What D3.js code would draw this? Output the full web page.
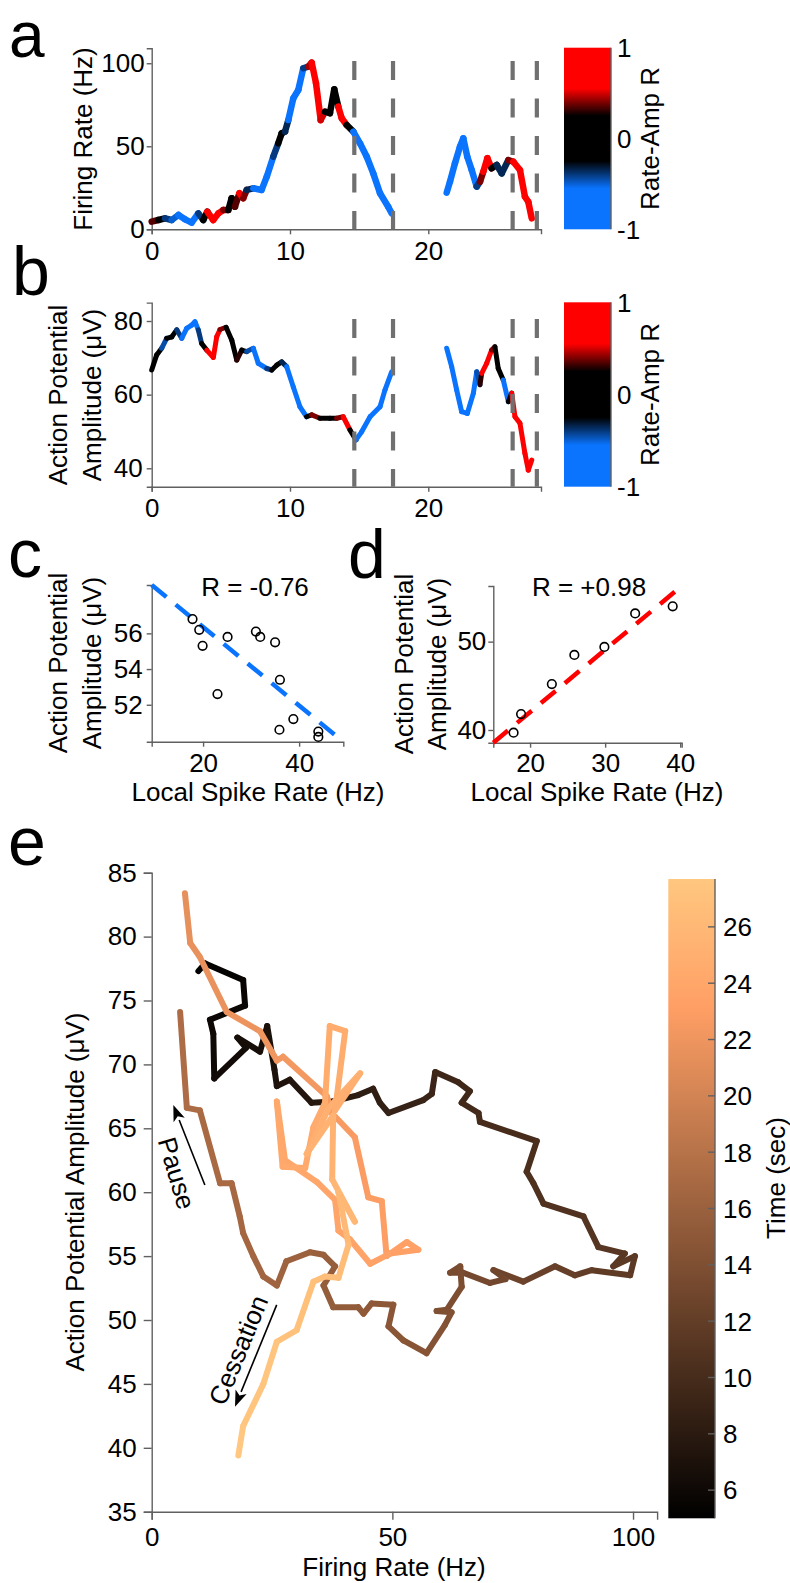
<!DOCTYPE html>
<html>
<head>
<meta charset="utf-8">
<script src="https://cdn.jsdelivr.net/npm/d3@7"></script>
<style>
body { margin: 0; background: #fff; }
svg { display: block; }
</style>
</head>
<body>
<script>
// ---- values ----

// panel a: firing rate over time, coloured by local rate-amplitude R
var timeA = [0, 0.48, 0.96, 1.45, 1.93, 2.41, 2.89, 3.37, 3.73, 4.02, 4.45, 4.82, 5.18, 5.54, 5.78, 6.02, 6.34, 6.62, 6.87, 7.35,
  7.95, 8.32, 8.79, 9.15, 9.4, 9.64, 9.88, 10.24, 10.6, 10.96, 11.32, 11.57, 11.88, 12.22, 12.53, 12.89, 13.2, 13.49, 13.74, 14.1,
  14.58, 15.06, 15.55, 16.02, 16.51, 17.1, 17.35,
  21.33, 21.57, 21.93, 22.29, 22.53, 22.82, 23.14, 23.5, 23.74, 23.98, 24.27, 24.58, 24.95, 25.31, 25.79, 26.15, 26.63, 26.99, 27.23, 27.48];
var rateA = [4.6, 5.6, 6.6, 5.6, 8.6, 6.0, 4.0, 9.6, 5.6, 10.6, 5.6, 9.6, 11.6, 11.6, 18.7, 13.6, 21.7, 18.7, 23.7, 24.7,
  23.7, 31.7, 43.7, 51.8, 57.8, 58.8, 65.8, 78.9, 83.9, 97.0, 98, 100.4, 88, 65.8, 70.8, 69.9, 84.3, 73.9, 66.9, 62.8,
  58.8, 51.8, 43.7, 33.7, 21.7, 13.6, 9.6,
  22.1, 28.7, 39.8, 49.8, 54.8, 43.7, 35.7, 25.7, 28.7, 34.7, 42.8, 36.7, 38.7, 33.7, 41.7, 40.7, 35.7, 19.6, 16.6, 6.6];
var corrA = [0.4, 0.3, -0.2, -0.6, -0.4, -0.7, -0.8, -0.7, -0.1, 0.4, 0.8, 0.8, 0.7, 0.1, -0.4, 0, 0.7, 0.8, 0, -0.7,
  -0.8, -0.8, -0.8, 0, 0.4, 0, -0.7, -0.8, -0.8, -0.8, 0, 0.9, 0.9, 0.9, 0.1, 0.3, 0.1, 0.4, 0.8, 0.8,
  -0.4, -0.8, -0.8, -0.8, -0.8, -0.8, -0.8,
  -0.8, -0.8, -0.8, -0.8, -0.5, -0.8, -0.8, -0.8, 0, 0.8, 0.8, 0.4, 0, -0.7, 0, 0.8, 0.8, 0.8, 0.8, 0.8];

// panel b: action potential amplitude over time
var timeB = [0, 0.36, 0.72, 1.08, 1.45, 1.81, 2.17, 2.53, 2.89, 3.13, 3.37, 3.61, 3.98, 4.46, 4.7, 4.94, 5.38, 5.79, 6.15, 6.51,
  6.87, 7.35, 7.71, 8.32, 8.68, 9.04, 9.4, 9.76, 10.24, 10.72, 11.2, 11.57, 12.17, 12.89, 13.37, 13.85, 14.34, 14.77, 15.18, 15.79,
  16.51, 16.87, 17.35,
  21.33, 21.69, 22.05, 22.41, 22.82, 23.26, 23.5, 23.74, 23.86, 24.22, 24.58, 24.82, 25.06, 25.42, 25.79, 26.03, 26.27, 26.63, 26.99, 27.23, 27.48];
var ampB = [66.7, 70.8, 72.6, 75.3, 75.7, 77.6, 75.3, 78.0, 78.9, 79.8, 77.6, 73.9, 72.1, 70.1, 75.7, 77.7, 78.3, 74.8, 69.4, 72.1,
  71.7, 72.6, 68.5, 67.1, 66.7, 68.0, 68.9, 67.6, 62.1, 56.7, 54.0, 54.5, 53.6, 53.6, 53.6, 54.0, 50.4, 47.7, 49.9, 54.0,
  56.7, 61.3, 66.2,
  72.6, 67.6, 61.3, 55.4, 54.9, 60.4, 66.2, 62.7, 65.8, 68.5, 72.1, 73.0, 67.1, 64.0, 58.1, 60.4, 54.0, 52.2, 44.0, 39.5, 42.2];
var corrB = [0.4, 0, -0.4, -0.5, 0, -0.4, -0.4, -0.7, -0.8, -0.8, -0.8, 0, 0.3, 0.8, 0.8, 0.8, 0, -0.4, 0, 0.6,
  -0.1, -0.8, -0.8, -0.8, 0, 0.4, 0, -0.7, -0.8, -0.8, -0.8, 0.5, 0.3, 0.1, 0.3, 0.5, 0.8, -0.4, -0.8, -0.8,
  -0.8, -0.8, -0.8,
  -0.8, -0.8, -0.8, -0.8, -0.8, -0.8, -0.8, -0.1, 0.7, 0.7, 0.4, 0.4, 0, -0.5, -0.7, 0.8, 0.8, 0.8, 0.8, 0.8, 0.8];

// dashed markers (sec)
var markTimes = [14.65, 17.45, 26.1, 27.85];

// panel c: negative correlation window
var cRate = [17.8, 19.2, 19.9, 23.0, 25.1, 31.0, 31.9, 35.0, 36.0, 35.9, 38.8, 44.0, 44.0];
var cAmp = [56.8, 56.2, 55.3, 52.6, 55.8, 56.1, 55.8, 55.5, 53.4, 50.6, 51.2, 50.5, 50.2];
var cFitX = [9.3, 49.2], cFitY = [58.71, 49.93];
var cLabel = "R = -0.76";

// panel d: positive correlation window
var dRate = [17.8, 18.8, 22.9, 25.9, 29.9, 34.0, 39.0];
var dAmp = [39.7, 41.8, 45.2, 48.5, 49.4, 53.2, 54.0];
var dFitX = [15.1, 40.2], dFitY = [38.56, 56.3];
var dLabel = "R = +0.98";

// panel e: amplitude vs rate trajectory, coloured by time
var eRate = [9.7, 11.1, 19.0, 19.4, 12.1, 12.8, 13.0, 19.6, 17.8, 22.5, 24.0, 25.5, 26.0, 28.7, 33.2, 37.7, 42.9, 46.0, 47.4, 49.2,
  56.4, 58.2, 58.9, 63.7, 66.1, 64.4, 67.9, 68.2, 80.0, 77.9, 79.3, 81.4, 89.7, 92.8, 98.3, 95.9, 100.4, 99.4, 91.4, 87.9,
  83.8, 77.2, 71.0, 73.5, 70.3, 64.7, 62.0, 64.1, 64.4, 61.3, 59.2, 62.3, 60.9, 57.1, 52.3, 49.2, 50.2, 45.7, 44.0, 42.9,
  37.7, 35.7, 38.1, 35.7, 32.9, 28.0, 26.0, 23.2, 21.1, 19.0, 18.3, 16.6, 14.2, 10.0, 7.3, 5.9,
  6.9, 8.0, 10.0, 15.6, 22.5, 26.0, 27.3, 36.4, 37.4, 42.2, 45.0, 47.8, 48.8, 53.0, 55.4, 49.5, 45.4, 41.2, 38.8, 38.1,
  34.3, 27.7, 26.0, 27.2, 31.9, 33.6, 36.0, 37.0, 40.2, 38.1, 43.3, 36.8, 32.2, 37.7, 37.5, 42.2, 38.8, 40.9, 38.8, 36.0,
  33.6, 30.1, 26.0, 23.2, 19.0, 18.0];
var eAmp = [77.3, 77.9, 76.6, 74.6, 73.5, 72.4, 68.9, 71.3, 72.1, 71.0, 73.0, 69.6, 68.3, 68.8, 67.0, 67.1, 67.6, 68.1, 67.0, 66.2,
  67.2, 67.7, 69.4, 68.6, 67.9, 67.0, 66.2, 65.5, 64.0, 61.6, 60.7, 59.1, 58.1, 55.7, 55.2, 54.2, 55.0, 53.5, 53.9, 53.5,
  54.2, 53.0, 53.9, 53.2, 52.9, 53.7, 53.7, 54.2, 52.6, 50.8, 50.7, 50.6, 49.6, 47.4, 48.4, 49.5, 51.2, 51.3, 50.5, 51.0,
  51.0, 52.7, 54.2, 55.1, 55.3, 54.6, 52.7, 53.4, 55.0, 56.8, 58.1, 60.7, 60.7, 66.4, 66.6, 74.1,
  83.4, 79.5, 78.4, 74.1, 72.6, 70.3, 70.6, 67.5, 66.2, 64.3, 59.6, 59.3, 55.0, 56.1, 55.5, 55.2, 54.4, 56.3, 57.0, 59.4,
  60.8, 62.5, 67.1, 62.0, 61.9, 65.1, 67.0, 73.0, 72.6, 66.4, 69.3, 66.6, 63.0, 66.0, 61.0, 57.7, 60.0, 55.9, 53.3, 53.4,
  53.0, 49.2, 48.3, 45.0, 41.7, 39.4];
var eTime = [5.0, 5.2, 5.5, 5.7, 5.9, 6.0, 6.2, 6.4, 6.5, 6.7, 6.8, 7.0, 7.1, 7.3, 7.6, 7.9, 8.2, 8.4, 8.5, 8.7,
  9.0, 9.2, 9.3, 9.5, 9.6, 9.7, 9.8, 9.9, 10.2, 10.4, 10.5, 10.6, 10.9, 11.1, 11.3, 11.4, 11.5, 11.6, 11.9, 12.1,
  12.3, 12.6, 12.9, 13.0, 13.2, 13.5, 13.6, 13.7, 13.8, 14.0, 14.1, 14.2, 14.3, 14.5, 14.7, 14.8, 14.9, 15.1, 15.2, 15.3,
  15.5, 15.6, 15.7, 15.8, 16.0, 16.2, 16.3, 16.5, 16.6, 16.7, 16.8, 16.9, 17.0, 17.1, 17.2, 17.4,
  21.3, 21.45, 21.55, 21.8, 22.0, 22.15, 22.25, 22.5, 22.6, 22.75, 22.9, 23.0, 23.1, 23.2, 23.3, 23.4, 23.5, 23.6, 23.7, 23.8,
  23.9, 24.0, 24.1, 24.2, 24.3, 24.4, 24.5, 24.6, 24.7, 24.8, 24.9, 25.0, 25.2, 25.3, 25.5, 25.7, 25.9, 26.3, 26.5, 26.7,
  26.8, 27.0, 27.2, 27.4, 27.6, 27.7];
var timeLimits = [5, 27.7];
var timeTicks = [6, 8, 10, 12, 14, 16, 18, 20, 22, 24, 26];

// ---- drawing ----
var fontFam = "'Liberation Sans', Arial, Helvetica, sans-serif";
var axisGray = "#606060";
var blueR = "#0a74ff", redR = "#ff0000";

var svg = d3.select("body").append("svg").attr("width", 790).attr("height", 1583)
  .attr("font-family", fontFam);

var rColor = d3.scaleLinear()
  .domain([-1, -0.55, -0.25, 0.25, 0.55, 1])
  .range([blueR, blueR, "#000000", "#000000", redR, redR])
  .clamp(true);

// matlab "copper"
function copper(t) {
  var x = (t - timeLimits[0]) / (timeLimits[1] - timeLimits[0]);
  x = Math.max(0, Math.min(1, x));
  return d3.rgb(255 * Math.min(1, 1.25 * x), 255 * 0.7812 * x, 255 * 0.4975 * x).toString();
}

var pa = {l: 151.7, r: 541, t: 48.3, b: 229.3};
var pb = {l: 151.7, r: 541, t: 302.6, b: 486.7};
var pc = {l: 151.7, r: 343.3, t: 585, b: 741.7};
var pd = {l: 493.3, r: 681.7, t: 586, b: 742.7};
var pe = {l: 151.7, r: 657.1, t: 872.7, b: 1511.7};

var xA = d3.scaleLinear().domain([0, 28.15]).range([pa.l, pa.r]);
var yA = d3.scaleLinear().domain([0, 109]).range([pa.b, pa.t]);
var xB = d3.scaleLinear().domain([0, 28.15]).range([pb.l, pb.r]);
var yB = d3.scaleLinear().domain([35, 85]).range([pb.b, pb.t]);
var xC = d3.scaleLinear().domain([9.3, 49.2]).range([pc.l, pc.r]);
var yC = d3.scaleLinear().domain([49.93, 58.71]).range([pc.b, pc.t]);
var xD = d3.scaleLinear().domain([15.1, 40.2]).range([pd.l, pd.r]);
var yD = d3.scaleLinear().domain([38.56, 56.3]).range([pd.b, pd.t]);
var xE = d3.scaleLinear().domain([0, 105]).range([pe.l, pe.r]);
var yE = d3.scaleLinear().domain([35, 85]).range([pe.b, pe.t]);

function styleAxis(g) {
  g.attr("font-family", fontFam).attr("font-size", 26);
  g.select(".domain").attr("stroke", axisGray).attr("stroke-width", 1.4);
  g.selectAll(".tick line").attr("stroke", axisGray).attr("stroke-width", 1.4);
  g.selectAll(".tick text").attr("fill", "#000");
}

function drawAxes(p, xs, ys, xt, yt, o) {
  var gx = svg.append("g").attr("transform", "translate(0," + p.b + ")")
    .call(d3.axisBottom(xs).tickValues(xt).tickSizeOuter(0).tickSize(o.ts).tickPadding(o.xpad).tickFormat(d3.format("d")));
  styleAxis(gx);
  var gy = svg.append("g").attr("transform", "translate(" + p.l + ",0)")
    .call(d3.axisLeft(ys).tickValues(yt).tickSizeOuter(0).tickSize(o.ts).tickPadding(o.ypad).tickFormat(d3.format("d")));
  styleAxis(gy);
}

function buildSegs(xs, ys, cs, keys) {
  var segs = [];
  for (var i = 0; i < xs.length - 1; i++) {
    if (keys[i + 1] - keys[i] > 2) continue; // recording gap
    segs.push({x1: xs[i], y1: ys[i], x2: xs[i + 1], y2: ys[i + 1], c: (cs[i] + cs[i + 1]) / 2});
  }
  return segs;
}

function drawTrace(segs, xs, ys, colorFn, w) {
  svg.append("g").selectAll("line").data(segs).enter().append("line")
    .attr("x1", function(d) { return xs(d.x1); })
    .attr("y1", function(d) { return ys(d.y1); })
    .attr("x2", function(d) { return xs(d.x2); })
    .attr("y2", function(d) { return ys(d.y2); })
    .attr("stroke", function(d) { return colorFn(d.c); })
    .attr("stroke-width", w)
    .attr("stroke-linecap", "round");
}

function vLabel(x, y, txt, rot) {
  svg.append("text").attr("transform", "translate(" + x + "," + y + ") rotate(" + (rot === undefined ? -90 : rot) + ")")
    .attr("text-anchor", "middle").attr("font-size", 26).attr("fill", "#000").text(txt);
}
function hLabel(x, y, txt, size, anchor) {
  svg.append("text").attr("x", x).attr("y", y).attr("text-anchor", anchor || "middle")
    .attr("font-size", size || 26).attr("fill", "#000").text(txt);
}

var defs = svg.append("defs");
var gradR = defs.append("linearGradient").attr("id", "gradR")
  .attr("x1", 0).attr("y1", 1).attr("x2", 0).attr("y2", 0);
rColor.domain().forEach(function(v) {
  gradR.append("stop").attr("offset", (v + 1) / 2).attr("stop-color", rColor(v));
});
var gradT = defs.append("linearGradient").attr("id", "gradT")
  .attr("x1", 0).attr("y1", 1).attr("x2", 0).attr("y2", 0);
[0, 0.2, 0.4, 0.6, 0.8, 1].forEach(function(f) {
  gradT.append("stop").attr("offset", f)
    .attr("stop-color", copper(timeLimits[0] + f * (timeLimits[1] - timeLimits[0])));
});

function rColorbar(top, bottom) {
  var cb = d3.scaleLinear().domain([-1, 1]).range([bottom, top]);
  svg.append("rect").attr("x", 564).attr("y", top).attr("width", 47).attr("height", bottom - top)
    .attr("fill", "url(#gradR)");
  svg.append("line").attr("x1", 611).attr("x2", 611).attr("y1", top).attr("y2", bottom)
    .attr("stroke", axisGray).attr("stroke-width", 1.4);
  [-1, 0, 1].forEach(function(v) {
    svg.append("text").attr("x", 617).attr("y", cb(v)).attr("dy", "0.36em")
      .attr("font-size", 26).attr("fill", "#000").text(v);
  });
  vLabel(659, (top + bottom) / 2, "Rate-Amp R");
}

function dashMarks(xs, top, bottom) {
  svg.append("g").selectAll("line").data(markTimes).enter().append("line")
    .attr("x1", function(d) { return xs(d); }).attr("x2", function(d) { return xs(d); })
    .attr("y1", top).attr("y2", bottom)
    .attr("stroke", "#707070").attr("stroke-width", 4.2).attr("stroke-dasharray", "19,18.5");
}

// ---- panel a ----
drawAxes(pa, xA, yA, [0, 10, 20], [0, 50, 100], {ts: 5, xpad: 7, ypad: 2});
drawTrace(buildSegs(timeA, rateA, corrA, timeA), xA, yA, rColor, 6.5);
dashMarks(xA, 61, pa.b);
rColorbar(47.7, 229.3);
vLabel(92, 139, "Firing Rate (Hz)");
hLabel(9, 57, "a", 64, "start");

// ---- panel b ----
drawAxes(pb, xB, yB, [0, 10, 20], [40, 60, 80], {ts: 5, xpad: 7, ypad: 4});
drawTrace(buildSegs(timeB, ampB, corrB, timeB), xB, yB, rColor, 5);
dashMarks(xB, 319, pb.b);
rColorbar(302.3, 486.7);
vLabel(67, 395, "Action Potential");
vLabel(101, 395, "Amplitude (\u03bcV)");
hLabel(12, 295, "b", 68, "start");

// ---- panel c ----
drawAxes(pc, xC, yC, [20, 40], [52, 54, 56], {ts: 5, xpad: 7, ypad: 4});
svg.append("line").attr("x1", xC(cFitX[0])).attr("y1", yC(cFitY[0]))
  .attr("x2", xC(cFitX[1])).attr("y2", yC(cFitY[1]))
  .attr("stroke", blueR).attr("stroke-width", 4.5).attr("stroke-dasharray", "19,12");
svg.append("g").selectAll("circle").data(cRate).enter().append("circle")
  .attr("cx", function(d) { return xC(d); })
  .attr("cy", function(d, i) { return yC(cAmp[i]); })
  .attr("r", 4.3).attr("fill", "none").attr("stroke", "#000").attr("stroke-width", 1.6);
hLabel(255, 596, cLabel);
vLabel(67, 663, "Action Potential");
vLabel(101, 663, "Amplitude (\u03bcV)");
hLabel(258, 801, "Local Spike Rate (Hz)");
hLabel(8, 577, "c", 68, "start");

// ---- panel d ----
drawAxes(pd, xD, yD, [20, 30, 40], [40, 50], {ts: 5, xpad: 6, ypad: 2});
svg.append("line").attr("x1", xD(dFitX[0])).attr("y1", yD(dFitY[0]))
  .attr("x2", xD(dFitX[1])).attr("y2", yD(dFitY[1]))
  .attr("stroke", redR).attr("stroke-width", 4.5).attr("stroke-dasharray", "19,12");
svg.append("g").selectAll("circle").data(dRate).enter().append("circle")
  .attr("cx", function(d) { return xD(d); })
  .attr("cy", function(d, i) { return yD(dAmp[i]); })
  .attr("r", 4.3).attr("fill", "none").attr("stroke", "#000").attr("stroke-width", 1.6);
hLabel(589, 596, dLabel);
vLabel(413, 664, "Action Potential");
vLabel(446, 664, "Amplitude (\u03bcV)");
hLabel(597, 801, "Local Spike Rate (Hz)");
hLabel(348, 578, "d", 68, "start");

// ---- panel e ----
drawAxes(pe, xE, yE, [0, 50, 100], d3.range(35, 86, 5), {ts: 8, xpad: 8, ypad: 7});
drawTrace(buildSegs(eRate, eAmp, eTime, eTime), xE, yE, copper, 6);

function arrow(x1, y1, x2, y2) {
  var ax = xE(x1), ay = yE(y1), bx = xE(x2), by = yE(y2);
  var ang = Math.atan2(by - ay, bx - ax), L = 16, Wd = 6;
  var hx = bx - L * Math.cos(ang), hy = by - L * Math.sin(ang);
  svg.append("line").attr("x1", ax).attr("y1", ay).attr("x2", hx).attr("y2", hy)
    .attr("stroke", "#000").attr("stroke-width", 1.6);
  var pts = [[bx, by],
    [hx + Wd * Math.sin(ang), hy - Wd * Math.cos(ang)],
    [hx + 4 * Math.cos(ang), hy + 4 * Math.sin(ang)],
    [hx - Wd * Math.sin(ang), hy + Wd * Math.cos(ang)]];
  svg.append("polygon").attr("points", pts.map(function(p) { return p.join(","); }).join(" "))
    .attr("fill", "#000");
}
arrow(11.04, 60.56, 4.49, 66.82);
arrow(25.97, 51.18, 17.31, 43.22);
svg.append("text").attr("transform", "translate(" + xE(5.19) + "," + yE(61.48) + ") rotate(73.4)")
  .attr("text-anchor", "middle").attr("dy", "0.35em").attr("font-size", 26).text("Pause");
svg.append("text").attr("transform", "translate(" + xE(18.0) + "," + yE(47.65) + ") rotate(-67.7)")
  .attr("text-anchor", "middle").attr("dy", "0.35em").attr("font-size", 26).text("Cessation");

// time colorbar
var cbE = d3.scaleLinear().domain(timeLimits).range([1518.3, 879]);
svg.append("rect").attr("x", 668.3).attr("y", cbE(timeLimits[1])).attr("width", 46.7)
  .attr("height", cbE(timeLimits[0]) - cbE(timeLimits[1])).attr("fill", "url(#gradT)");
svg.append("line").attr("x1", 715).attr("x2", 715).attr("y1", cbE(timeLimits[1])).attr("y2", cbE(timeLimits[0]))
  .attr("stroke", axisGray).attr("stroke-width", 1.4);
svg.append("g").selectAll("line").data(timeTicks).enter().append("line")
  .attr("x1", 708).attr("x2", 715)
  .attr("y1", function(d) { return cbE(d); }).attr("y2", function(d) { return cbE(d); })
  .attr("stroke", axisGray).attr("stroke-width", 1.4);
svg.append("g").selectAll("text").data(timeTicks).enter().append("text")
  .attr("x", 723).attr("y", function(d) { return cbE(d); }).attr("dy", "0.36em")
  .attr("font-size", 26).attr("fill", "#000").text(function(d) { return d; });
vLabel(785, 1178, "Time (sec)");

vLabel(84, 1192, "Action Potential Amplitude (\u03bcV)");
hLabel(394, 1576, "Firing Rate (Hz)");
hLabel(8, 865, "e", 68, "start");
</script>
</body>
</html>
